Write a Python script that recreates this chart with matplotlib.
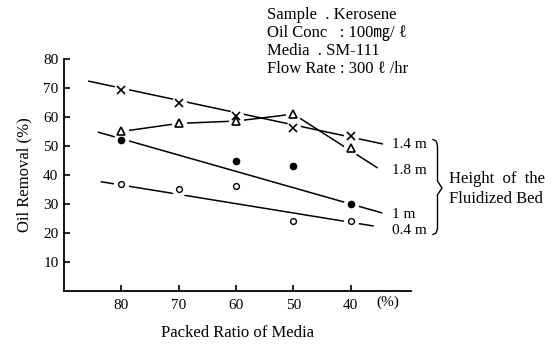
import matplotlib
matplotlib.use("Agg")
import matplotlib.pyplot as plt
import numpy as np
from matplotlib.lines import Line2D

plt.rcParams['font.family'] = ['Liberation Serif', 'DejaVu Serif', 'Noto Sans CJK JP']

# Packed ratio of media (%)
packed = [80, 70, 60, 50, 40]

# Oil removal (%) for each fluidized-bed height
rem_14 = [69.3, 64.9, 60.3, 56.3, 53.5]        # 1.4 m  (x)
rem_18 = [55.0, 57.8, 58.6, 61.0, 49.4]        # 1.8 m  (triangle)
rem_10 = [52.1, np.nan, 44.8, 43.1, 30.0]      # 1 m    (filled circle)
rem_04 = [36.8, 35.3, 36.2, 24.1, 24.1]        # 0.4 m  (open circle)

# Trend lines drawn through each series
trend_14_x, trend_14_y = [85.8, 34.4], [72.4, 50.7]
trend_18_x, trend_18_y = [80, 70, 60, 50, 35.3], [55.0, 57.8, 58.6, 61.0, 42.4]
trend_10_x, trend_10_y = [84.1, 34.5], [54.8, 26.9]
trend_04_x, trend_04_y = [83.6, 36.0], [37.7, 22.4]

yticks = [10, 20, 30, 40, 50, 60, 70, 80]

W, H = 555, 345
fig = plt.figure(figsize=(W / 100, H / 100), dpi=100)


def fx(x):
    return np.asarray(x) / W


def fy(y):
    return 1 - np.asarray(y) / H


ax = fig.add_axes([fx(64), fy(291), fx(411) - fx(64), fy(59) - fy(291)])
ax.set_xlim(90, 29.5)
ax.set_ylim(0, 80)
for s in ('top', 'right'):
    ax.spines[s].set_visible(False)
for s in ('left', 'bottom'):
    ax.spines[s].set_linewidth(1.3)

ax.set_xticks(packed)
ax.set_yticks(yticks)
ax.tick_params(direction='in', length=4, width=1.2, labelsize=11, pad=6)
ax.tick_params(axis='y', pad=4, labelsize=11)

lw = 1.1
for tx, ty in [(trend_14_x, trend_14_y), (trend_18_x, trend_18_y),
               (trend_10_x, trend_10_y), (trend_04_x, trend_04_y)]:
    ax.plot(tx, ty, color='black', lw=lw, zorder=2, solid_capstyle='butt')

# white halo behind markers, leaving a gap in the lines
for ys in (rem_14, rem_18, rem_10, rem_04):
    ax.plot(packed, ys, ls='none', marker='o', ms=10, mfc='white', mec='white', zorder=3)

ax.plot(packed, rem_14, ls='none', marker='x', ms=5.5, mew=1.2, color='black', zorder=4)
ax.plot(packed, rem_18, ls='none', marker='^', ms=5.5, mew=1.2, mfc='white', mec='black', zorder=4)
ax.plot(packed, rem_10, ls='none', marker='o', ms=4.5, mfc='black', mec='black', zorder=4)
ax.plot(packed, rem_04, ls='none', marker='o', ms=4.2, mew=1.0, mfc='white', mec='black', zorder=4)

ax.set_ylabel('Oil Removal (%)', fontsize=12, labelpad=8)
ax.set_xlabel('Packed Ratio of Media', fontsize=12, labelpad=9)
fig.text(fx(388), fy(302), '(%)', fontsize=11, ha='center', va='center')

# condition block
cond = ['Sample  . Kerosene',
        'Oil Conc   : 100㎎/ ℓ',
        'Media  . SM-111',
        'Flow Rate : 300 ℓ /hr']
for i, t in enumerate(cond):
    fig.text(fx(267), fy(15 + 18 * i), t, fontsize=12, ha='left', va='center')

# height labels
heights = [('1.4 m', 145), ('1.8 m', 171), ('1 m', 214), ('0.4 m', 231)]
for t, y in heights:
    fig.text(fx(392), fy(y), t, fontsize=11, ha='left', va='center')

# curly brace
top, bot, mid = 141, 233, 188
xb, xr = 436, 442
ts = np.linspace(0, 1, 60)
pts_x = []
pts_y = []
for t in ts:
    y = top + (mid - top) * t
    if t < 0.12:
        x = xb + 1.5 * np.sin(t / 0.12 * np.pi / 2)
    elif t > 0.85:
        x = xb + 1.5 + (xr - xb - 1.5) * (t - 0.85) / 0.15
    else:
        x = xb + 1.5
    pts_x.append(x)
    pts_y.append(y)
for t in ts:
    y = mid + (bot - mid) * t
    if t < 0.15:
        x = xr - (xr - xb - 1.5) * t / 0.15
    elif t < 0.88:
        x = xb + 1.5
    else:
        x = xb + 1.5 * np.cos((t - 0.88) / 0.12 * np.pi / 2)
    pts_x.append(x)
    pts_y.append(y)
pts_x = np.concatenate([[xb - 3], pts_x, [xb - 3]])
pts_y = np.concatenate([[top - 1.5], pts_y, [bot + 1.5]])
fig.add_artist(Line2D(fx(pts_x), fy(pts_y), color='black', lw=1.0, transform=fig.transFigure))

fig.text(fx(449), fy(179), 'Height  of  the', fontsize=12, ha='left', va='center')
fig.text(fx(449), fy(199), 'Fluidized Bed', fontsize=12, ha='left', va='center')

fig.savefig('out.png', dpi=100)
